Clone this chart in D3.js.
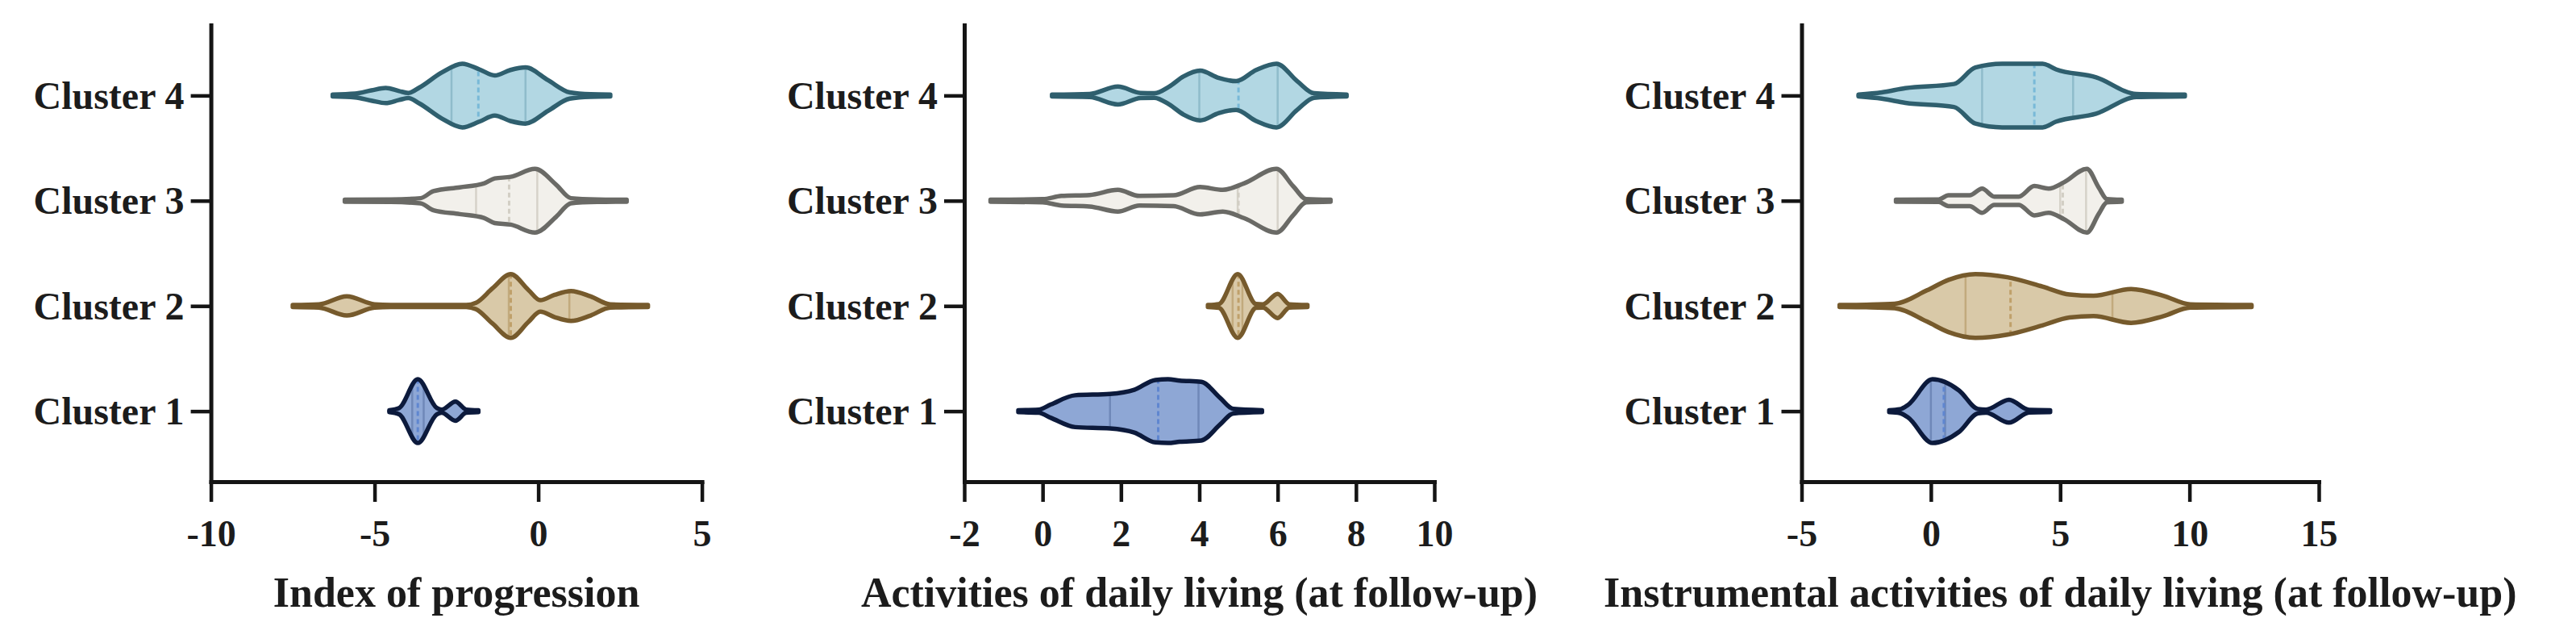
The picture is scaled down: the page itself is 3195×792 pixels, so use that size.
<!DOCTYPE html>
<html><head><meta charset="utf-8">
<script src="https://cdn.jsdelivr.net/npm/d3@7"></script>
<style>body{margin:0;background:#fff} svg{display:block}</style>
</head><body><svg id="chart" width="3195" height="792"></svg>
<script>
// ---------- data ----------
const clusters = ["Cluster 4", "Cluster 3", "Cluster 2", "Cluster 1"];
const titles = ["Index of progression", "Activities of daily living (at follow-up)", "Instrumental activities of daily living (at follow-up)"];
const domains = [[-10, 5], [-2, 10], [-5, 15]];
const ticks1 = [-10, -5, 0, 5];
const ticks2 = [-2, 0, 2, 4, 6, 8, 10];
const ticks3 = [-5, 0, 5, 10, 15];

// violin density profiles: [value, relative density], order Cluster 4..1
const prog4 = [[-6.28,0.03],[-5.6,0.06],[-5.1,0.16],[-4.66,0.24],[-4.25,0.14],[-3.97,0.08],[-3.63,0.25],[-2.95,0.72],[-2.32,1.0],[-1.8,0.82],[-1.33,0.63],[-0.85,0.8],[-0.39,0.88],[0.3,0.48],[0.96,0.1],[1.6,0.04],[2.2,0.03]];
const prog3 = [[-5.91,0.03],[-4.5,0.04],[-3.6,0.08],[-3.2,0.3],[-2.4,0.42],[-1.66,0.54],[-1.33,0.7],[-0.84,0.75],[-0.1,1.0],[0.55,0.5],[1.0,0.08],[1.8,0.04],[2.7,0.03]];
const prog2 = [[-7.5,0.03],[-6.7,0.05],[-5.85,0.3],[-5.0,0.05],[-4.5,0.03],[-2.2,0.03],[-1.9,0.1],[-1.4,0.55],[-0.84,1.0],[-0.3,0.5],[0.06,0.18],[0.5,0.35],[1.0,0.47],[1.6,0.3],[2.2,0.05],[3.35,0.03]];
const prog1 = [[-4.55,0.03],[-4.25,0.1],[-3.68,1.0],[-3.1,0.1],[-2.95,0.05],[-2.53,0.3],[-2.2,0.05],[-1.83,0.03]];

const adl4 = [[0.24,0.03],[1.2,0.05],[1.92,0.28],[2.5,0.08],[2.85,0.07],[3.23,0.28],[3.6,0.6],[4.02,0.78],[4.5,0.55],[4.94,0.45],[5.45,0.8],[5.97,1.0],[6.5,0.45],[6.93,0.07],[7.76,0.03]];
const adl3 = [[-1.33,0.03],[0.0,0.05],[0.48,0.15],[1.2,0.18],[1.92,0.34],[2.47,0.15],[3.34,0.17],[4.02,0.43],[4.6,0.34],[5.15,0.55],[5.97,1.0],[6.4,0.45],[6.73,0.05],[7.35,0.03]];
const adl2 = [[4.22,0.03],[4.5,0.06],[4.98,1.0],[5.45,0.06],[5.62,0.05],[6.0,0.38],[6.3,0.05],[6.76,0.03]];
const adl1 = [[-0.62,0.03],[-0.1,0.05],[0.21,0.21],[0.83,0.5],[1.72,0.54],[2.34,0.67],[2.88,0.98],[3.2,1.0],[3.5,0.96],[4.05,0.92],[4.53,0.42],[4.87,0.07],[5.6,0.03]];

const iadl4 = [[-2.8,0.03],[-1.9,0.1],[-0.99,0.23],[0.89,0.36],[1.72,0.88],[2.76,1.0],[4.32,1.0],[4.84,0.82],[6.39,0.57],[7.95,0.05],[9.82,0.03]];
const iadl3 = [[-1.35,0.03],[0.3,0.04],[0.68,0.17],[1.5,0.17],[1.98,0.38],[2.45,0.13],[3.4,0.13],[4.0,0.46],[4.55,0.38],[5.15,0.58],[6.03,1.0],[6.5,0.4],[6.81,0.05],[7.38,0.03]];
const iadl2 = [[-3.53,0.03],[-2.5,0.04],[-1.4,0.07],[-0.15,0.49],[0.68,0.82],[1.72,1.0],[2.96,0.9],[4.31,0.61],[5.36,0.36],[6.29,0.32],[7.74,0.53],[8.99,0.32],[10.03,0.05],[12.4,0.03]];
const iadl1 = [[-1.61,0.03],[-1.2,0.06],[-0.88,0.2],[0.06,1.0],[1.09,0.65],[1.82,0.07],[2.13,0.05],[3.02,0.36],[3.8,0.04],[4.61,0.03]];

// quartiles [Q1, median, Q3], order Cluster 4..1
const progQ = [[-2.65,-1.83,-0.39],[-1.9,-0.89,-0.03],[-0.9,-0.84,0.95],[-3.85,-3.68,-3.5]];
const adlQ = [[4.0,5.0,6.0],[4.98,5.0,6.0],[4.85,5.0,5.1],[1.72,2.95,3.98]];
const iadlQ = [[1.98,4.0,5.5],[5.0,5.1,6.0],[1.34,3.08,7.02],[0.0,0.5,0.55]];

const fills = ["#b2d7e3", "#f2f0eb", "#d9c9a8", "#8ea7d5"];
const strokes = ["#2f5f6e", "#6a6a66", "#765a2c", "#0c1a3c"];
const quartColors = ["#8fbccb", "#d6d2c9", "#c2aa7d", "#6f88b8"];
const medianColors = ["#78b9d8", "#d2cec4", "#bfa06a", "#5f86d0"];

// ---------- layout ----------
const svg = d3.select("#chart");
const panelRanges = [[261.6, 870.6], [1196, 1779], [2234.5, 2876]];
const panelTicks = [ticks1, ticks2, ticks3];
const panelViolins = [[prog4, prog3, prog2, prog1], [adl4, adl3, adl2, adl1], [iadl4, iadl3, iadl2, iadl1]];
const panelQuarts = [progQ, adlQ, iadlQ];
const yTop = 31, yBottom = 597;
const FONT = "'Liberation Serif', 'Times New Roman', serif";

const y = d3.scalePoint().domain(clusters).range([yTop, yBottom]).padding(0.67);
const w = d3.scaleLinear().domain([0, 1]).range([0, 39.5]);

panelRanges.forEach((rng, p) => {
  const x = d3.scaleLinear().domain(domains[p]).range(rng);
  const g = svg.append("g");

  // violins
  clusters.forEach((c, i) => {
    const yc = y(c);
    const prof = panelViolins[p][i];
    const area = d3.area()
      .x(d => x(d[0]))
      .y0(d => yc + w(d[1]))
      .y1(d => yc - w(d[1]))
      .curve(d3.curveMonotoneX);
    const id = `clip-${p}-${i}`;
    g.append("clipPath").attr("id", id).append("path").attr("d", area(prof));
    g.append("path").attr("d", area(prof)).attr("fill", fills[i]);
    const q = panelQuarts[p][i];
    const lg = g.append("g").attr("clip-path", `url(#${id})`);
    [q[0], q[2]].forEach(v => {
      lg.append("line").attr("x1", x(v)).attr("x2", x(v))
        .attr("y1", yc - 50).attr("y2", yc + 50)
        .attr("stroke", quartColors[i]).attr("stroke-width", 2.5);
    });
    lg.append("line").attr("x1", x(q[1])).attr("x2", x(q[1]))
      .attr("y1", yc - 50).attr("y2", yc + 50)
      .attr("stroke", medianColors[i]).attr("stroke-width", 3)
      .attr("stroke-dasharray", "6,4");
    g.append("path").attr("d", area(prof)).attr("fill", "none")
      .attr("stroke", strokes[i]).attr("stroke-width", 5.5)
      .attr("stroke-linejoin", "round").attr("stroke-linecap", "butt");
  });

  // axes
  const xAxis = d3.axisBottom(x).tickValues(panelTicks[p]).tickFormat(d => String(d))
    .tickSize(25).tickSizeOuter(0).tickPadding(22);
  const gx = g.append("g").attr("transform", `translate(0,${yBottom})`).call(xAxis);
  const yAxis = d3.axisLeft(y).tickSize(25).tickSizeOuter(0).tickPadding(8);
  const gy = g.append("g").attr("transform", `translate(${rng[0]},0)`).call(yAxis);

  [gx, gy].forEach(a => {
    a.select(".domain").attr("stroke", "#151515").attr("stroke-width", 5).attr("stroke-linecap", "square");
    a.selectAll(".tick line").attr("stroke", "#151515").attr("stroke-width", 4.5);
    a.selectAll(".tick text").attr("fill", "#1c1c1c")
      .style("font-family", FONT).style("font-weight", "bold");
  });
  gx.selectAll(".tick text").style("font-size", "46px");
  gy.selectAll(".tick text").style("font-size", "48px").attr("dy", "0.33em");

  g.append("text")
    .attr("x", (rng[0] + rng[1]) / 2).attr("y", 752)
    .attr("text-anchor", "middle")
    .attr("fill", "#1c1c1c")
    .style("font-family", FONT).style("font-weight", "bold").style("font-size", "52px")
    .text(titles[p]);
});
</script>
</body></html>
